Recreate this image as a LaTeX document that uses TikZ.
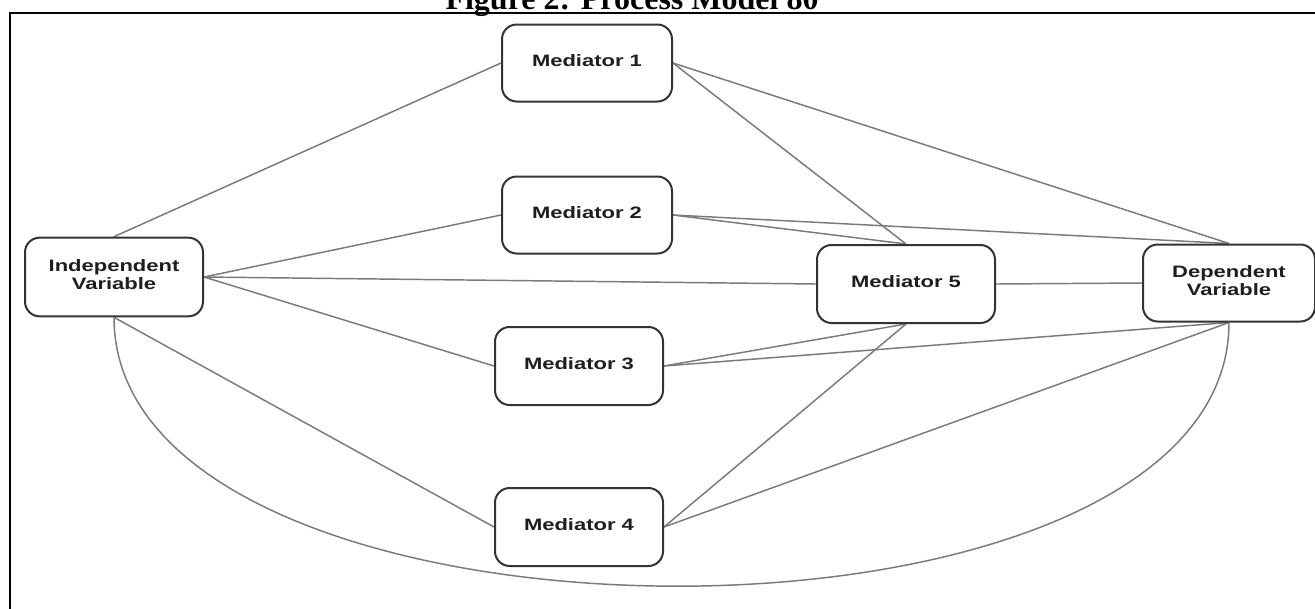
\documentclass[tikz,border=0pt]{standalone}
\usepackage{fontspec}
\usepackage{graphicx}
\usetikzlibrary{calc,backgrounds}
\newfontfamily\labfont{Liberation Sans}
\newfontfamily\titlefont{Liberation Serif}
\definecolor{boxline}{HTML}{333333}
\definecolor{conn}{HTML}{7A7A7A}
\definecolor{labtext}{HTML}{1E1E1E}
\newcommand{\lab}[1]{\scalebox{1.33}[1]{\begin{tabular}{@{}c@{}}#1\end{tabular}}}
\begin{document}
\begin{tikzpicture}[x=0.75pt,y=-0.75pt,
  varbox/.style={draw=boxline, line width=1.5pt, rounded corners=11pt, fill=white,
    inner sep=0pt, minimum width=129pt, minimum height=57.75pt,
    font=\labfont\bfseries\fontsize{12.4}{13.2}\selectfont, text=labtext},
  wide/.style={minimum width=133.5pt, minimum height=59pt},
  link/.style={draw=conn, line width=1.1pt}]
\useasboundingbox (0,0) rectangle (1315,608);
\clip (0,0) rectangle (1315,608);
% title and frame
\node[anchor=base, inner sep=0pt, font=\titlefont\bfseries\fontsize{24}{26}\selectfont] (title) at (632,9) {Figure 2: Process Model 80};
\draw[black, line width=1.5pt] (10,700) -- (10,13) -- (1400,13);
% nodes
\node[varbox, wide] (iv) at (114,277) {\lab{Independent\\Variable}};
\node[varbox, minimum width=127.5pt] (m1) at (587,63) {\lab{Mediator 1}};
\node[varbox, minimum width=127.5pt] (m2) at (587,215) {\lab{Mediator 2}};
\node[varbox, minimum width=126pt, minimum height=58.5pt] (m3) at (579,366) {\lab{Mediator 3}};
\node[varbox, minimum width=126pt, minimum height=58.5pt] (m4) at (579,527) {\lab{Mediator 4}};
\node[varbox, wide, minimum height=58.5pt] (m5) at (906,284) {\lab{Mediator 5}};
\node[varbox] (dv) at (1229,283) {\lab{Dependent\\Variable}};
% connectors
\begin{scope}[on background layer]
\fill[white] (0,0) rectangle (1315,608);
\path[link] (iv.north) -- (m1.west);
\path[link] (iv.east) -- (m2.west);
\path[link] (iv.east) -- (m5.west);
\path[link] (iv.east) -- (m3.west);
\path[link] (iv.south) -- (m4.west);
\path[link] (iv.south) .. controls ($(iv.south)+(0,355)$) and ($(dv.south)+(0,355)$) .. (dv.south);
\path[link] (m1.east) -- (m5.north);
\path[link] (m1.east) -- (dv.north);
\path[link] (m2.east) -- (m5.north);
\path[link] (m2.east) -- (dv.north);
\path[link] (m3.east) -- (m5.south);
\path[link] (m3.east) -- (dv.south);
\path[link] (m4.east) -- (m5.south);
\path[link] (m4.east) -- (dv.south);
\path[link] (m5.east) -- (dv.west);
\end{scope}
\end{tikzpicture}
\end{document}
